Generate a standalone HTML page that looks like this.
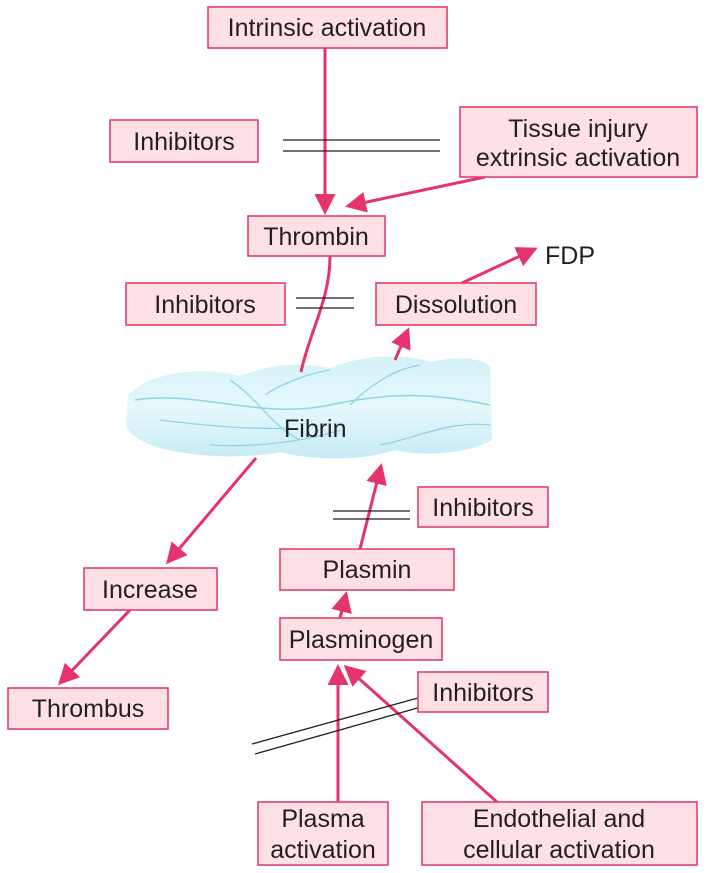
<!DOCTYPE html>
<html><head><meta charset="utf-8"><style>
body{margin:0;background:#fff}
svg{display:block}
text{font-family:"Liberation Sans",sans-serif;font-size:25px;fill:#231f20}
.box{fill:#fde1e4;stroke:#e04070;stroke-width:1.6}
.ar{stroke:#e5336b;stroke-width:3;fill:none}
.dl{stroke:#231f20;stroke-width:1.3}
</style></head><body>
<svg width="706" height="873" viewBox="0 0 706 873">
<defs>
<marker id="ah" markerWidth="8" markerHeight="8" refX="6" refY="4" orient="auto" markerUnits="strokeWidth"><path d="M0,0.5 L7,4 L0,7.5 Z" fill="#e5336b"/></marker>
<linearGradient id="fg" x1="0" y1="0" x2="0" y2="1"><stop offset="0" stop-color="#d3f1f8"/><stop offset="0.5" stop-color="#e6f8fc"/><stop offset="1" stop-color="#c6ecf4"/></linearGradient>
</defs>
<g>
<path d="M128,395 C150,372 200,366 240,376 C270,364 300,362 330,368 C360,356 400,352 430,362 C460,356 480,358 490,366 L492,440 C470,452 430,458 395,450 C360,462 310,460 280,452 C240,460 190,456 160,448 C140,442 126,432 126,424 Z" fill="url(#fg)"/>
<path d="M135,400 C200,390 260,420 330,405 C400,390 440,395 490,405" stroke="#8fd4e4" stroke-width="1.5" fill="none"/>
<path d="M230,380 C260,400 270,425 300,440 M330,370 C300,375 275,388 265,395 M420,365 C390,370 365,390 350,405 M160,420 C200,425 250,430 290,428 M380,445 C410,440 450,420 490,425 M210,445 C260,448 310,440 340,430" stroke="#8fd4e4" stroke-width="1.3" fill="none"/>
<text x="284" y="437">Fibrin</text>
</g>
<g>
<line class="ar" x1="325" y1="48" x2="325" y2="212" marker-end="url(#ah)"/>
<line class="ar" x1="485" y1="177" x2="348" y2="206" marker-end="url(#ah)"/>
<path class="ar" d="M330,256 C330,300 310,330 301,372"/>
<line class="ar" x1="256" y1="458" x2="168" y2="562" marker-end="url(#ah)"/>
<line class="ar" x1="395" y1="360" x2="408" y2="330" marker-end="url(#ah)"/>
<line class="ar" x1="462" y1="283" x2="535" y2="249" marker-end="url(#ah)"/>
<line class="ar" x1="360" y1="549" x2="381" y2="466" marker-end="url(#ah)"/>
<line class="ar" x1="340" y1="618" x2="346" y2="594" marker-end="url(#ah)"/>
<line class="ar" x1="130" y1="610" x2="60" y2="683" marker-end="url(#ah)"/>
<line class="ar" x1="338" y1="802" x2="338" y2="667" marker-end="url(#ah)"/>
<line class="ar" x1="497" y1="802" x2="346" y2="667" marker-end="url(#ah)"/>
</g>
<g>
<line class="dl" x1="283" y1="140" x2="440" y2="140"/><line class="dl" x1="283" y1="151" x2="440" y2="151"/>
<line class="dl" x1="296" y1="298" x2="354" y2="298"/><line class="dl" x1="296" y1="308" x2="354" y2="308"/>
<line class="dl" x1="333" y1="511" x2="410" y2="511"/><line class="dl" x1="333" y1="519" x2="410" y2="519"/>
<line class="dl" x1="252" y1="744" x2="425" y2="696"/><line class="dl" x1="255" y1="754" x2="428" y2="705"/>
</g>
<g><rect class="box" x="208" y="7" width="239" height="41"/><text x="327" y="36" text-anchor="middle">Intrinsic activation</text></g>
<g><rect class="box" x="110" y="120" width="148" height="42"/><text x="184" y="150" text-anchor="middle">Inhibitors</text></g>
<g><rect class="box" x="460" y="107" width="237" height="70"/><text x="578" y="137" text-anchor="middle">Tissue injury</text><text x="578" y="166" text-anchor="middle">extrinsic activation</text></g>
<g><rect class="box" x="248" y="216" width="137" height="40"/><text x="316" y="245" text-anchor="middle">Thrombin</text></g>
<text x="545" y="264">FDP</text>
<g><rect class="box" x="126" y="283" width="159" height="42"/><text x="205" y="313" text-anchor="middle">Inhibitors</text></g>
<g><rect class="box" x="376" y="283" width="160" height="42"/><text x="456" y="313" text-anchor="middle">Dissolution</text></g>
<g><rect class="box" x="418" y="487" width="130" height="40"/><text x="483" y="516" text-anchor="middle">Inhibitors</text></g>
<g><rect class="box" x="84" y="568" width="133" height="42"/><text x="150" y="598" text-anchor="middle">Increase</text></g>
<g><rect class="box" x="280" y="549" width="174" height="41"/><text x="367" y="578" text-anchor="middle">Plasmin</text></g>
<g><rect class="box" x="280" y="618" width="162" height="42"/><text x="361" y="648" text-anchor="middle">Plasminogen</text></g>
<g><rect class="box" x="418" y="672" width="130" height="40"/><text x="483" y="701" text-anchor="middle">Inhibitors</text></g>
<g><rect class="box" x="8" y="688" width="160" height="41"/><text x="88" y="717" text-anchor="middle">Thrombus</text></g>
<g><rect class="box" x="258" y="802" width="130" height="63"/><text x="323" y="827" text-anchor="middle">Plasma</text><text x="323" y="858" text-anchor="middle">activation</text></g>
<g><rect class="box" x="422" y="802" width="275" height="63"/><text x="559" y="827" text-anchor="middle">Endothelial and</text><text x="559" y="858" text-anchor="middle">cellular activation</text></g>
</svg>
</body></html>
